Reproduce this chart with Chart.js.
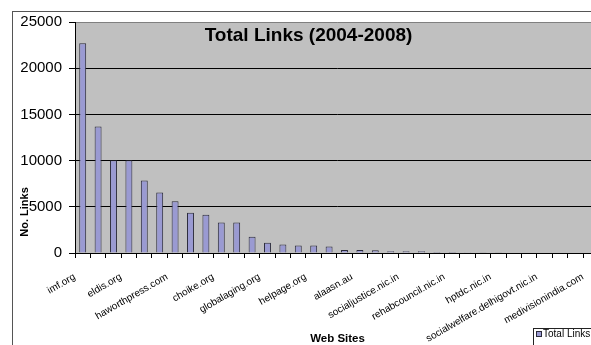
<!DOCTYPE html>
<html>
<head>
<meta charset="utf-8">
<script src="https://cdn.jsdelivr.net/npm/chart.js@4"></script>
<style>
html,body{margin:0;padding:0;background:#fff;overflow:hidden;}
#wrap{position:relative;width:610px;height:345px;}
</style>
</head>
<body>
<div id="wrap"><canvas id="c" width="610" height="345"></canvas></div>
<script>
const categories = ['imf.org','','','eldis.org','','','haworthpress.com','','','choike.org','','','globalaging.org','','','helpage.org','','','alaasn.au','','','socialjustice.nic.in','','','rehabcouncil.nic.in','','','hptdc.nic.in','','','socialwelfare.delhigovt.nic.in','','','medivisionindia.com'];
const totalLinks = [22700,13700,10050,10050,7850,6550,5600,4350,4150,3300,3300,1750,1100,920,800,800,700,320,320,310,200,200,200,100,100,90,80,80,0,0,0,0,0,0];
const yTicks = [0,5000,10000,15000,20000,25000];
const chartTitle = 'Total Links (2004-2008)';
const seriesName = 'Total Links';
const yTitle = 'No. Links';
const xTitle = 'Web Sites';

const decor = {
  id:'decor',
  beforeDraw(chart){
    const {ctx, chartArea:a} = chart;
    ctx.save();
    ctx.fillStyle='#fff';
    ctx.fillRect(0,0,chart.width,chart.height);
    ctx.strokeStyle='#555';
    ctx.lineWidth=1;
    ctx.strokeRect(12.5,11.5,chart.width+20,chart.height+20);
    ctx.fillStyle='#c0c0c0';
    ctx.fillRect(a.left,a.top,a.right-a.left,a.bottom-a.top);
    ctx.restore();
  },
  afterDraw(chart){
    const {ctx} = chart;
    ctx.save();
    ctx.fillStyle='#000';
    ctx.font='bold 19px "Liberation Sans", Arial, sans-serif';
    ctx.textAlign='center';
    ctx.textBaseline='alphabetic';
    ctx.fillText(chartTitle, 308.5, 41);
    ctx.font='bold 11.5px "Liberation Sans", Arial, sans-serif';
    ctx.textBaseline='middle';
    ctx.fillText(xTitle, 337.5, 339);
    ctx.save();
    ctx.translate(25,212);
    ctx.rotate(-Math.PI/2);
    ctx.font='bold 11px "Liberation Sans", Arial, sans-serif';
    ctx.fillText(yTitle,0,0);
    ctx.restore();
    // legend
    const ds = chart.data.datasets[0];
    ctx.fillStyle='#fff';
    ctx.fillRect(533,328,100,40);
    ctx.strokeStyle='#222';
    ctx.strokeRect(533.5,328.5,100,40);
    ctx.fillStyle=ds.backgroundColor;
    ctx.fillRect(536,331,6,6);
    ctx.strokeStyle=ds.borderColor;
    ctx.strokeRect(536.5,331.5,5,5);
    ctx.fillStyle='#000';
    ctx.font='10px "Liberation Sans", Arial, sans-serif';
    ctx.textAlign='left';
    ctx.textBaseline='middle';
    ctx.fillText(ds.label,543,334);
    ctx.restore();
  }
};

new Chart(document.getElementById('c'),{
  type:'bar',
  data:{labels:categories,datasets:[{label:seriesName,data:totalLinks,backgroundColor:'#9a9ad2',borderColor:'#2a2a3a',borderWidth:1,barPercentage:0.45,categoryPercentage:1}]},
  options:{
    responsive:false,animation:false,devicePixelRatio:1,
    layout:{padding:{left:0,top:22,right:8,bottom:0}},
    plugins:{legend:{display:false},title:{display:false},tooltip:{enabled:false}},
    scales:{
      x:{
        offset:true,
        grid:{offset:true,drawOnChartArea:false,drawTicks:true,tickLength:5,color:'#000'},
        border:{color:'#000',width:1},
        ticks:{autoSkip:false,minRotation:30,maxRotation:30,padding:13,labelOffset:-8,color:'#000',font:{family:'"Liberation Sans", Arial, sans-serif',size:10}},
        afterFit(s){s.height=92;}
      },
      y:{
        min:0,max:25000,
        afterBuildTicks(s){s.ticks=yTicks.map(v=>({value:v}));},
        grid:{color:(c)=>c.tick && c.tick.value===25000?'#808080':'#000',tickColor:'#000',tickLength:6,lineWidth:1},
        border:{color:'#000',width:1},
        ticks:{padding:7,color:'#000',font:{family:'"Liberation Sans", Arial, sans-serif',size:15},callback:(v)=>String(v)},
        afterFit(s){s.width=75;}
      }
    }
  },
  plugins:[decor]
});
</script>
</body>
</html>
